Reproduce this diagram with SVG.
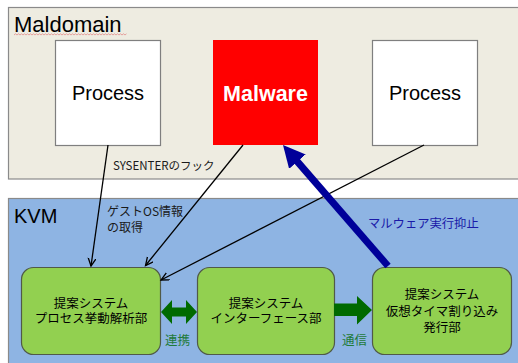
<svg xmlns="http://www.w3.org/2000/svg" width="518" height="363" viewBox="0 0 518 363">
<defs>
<style>
.dom{stroke:#8a8a8a;stroke-width:1.2}
.proc{fill:#ffffff;stroke:#7f7f7f;stroke-width:1.2}
.gbox{fill:#92D050;stroke:#505a48;stroke-width:1.2}
.lbl{font-family:"Liberation Sans",Arial,sans-serif;fill:#000}
.jp{font-family:"Noto Sans CJK JP","Noto Sans",sans-serif;font-size:12.5px;fill:#000;text-anchor:middle}
.jps{font-family:"Noto Sans CJK JP","Noto Sans",sans-serif;fill:#1a1a1a}
.thin{stroke:#000;stroke-width:1.3;fill:none}
.garrow{fill:#006a00}
</style>
<marker id="vhead" markerUnits="userSpaceOnUse" markerWidth="10" markerHeight="10" refX="8" refY="4" orient="auto">
<path d="M0,0 L8,4 L0,8" fill="none" stroke="#000" stroke-width="1.3"/>
</marker>
<marker id="bhead" markerUnits="userSpaceOnUse" markerWidth="24" markerHeight="24" refX="4" refY="11" orient="auto">
<path d="M0,0 L22,11 L0,22 z" fill="#000099"/>
</marker>
</defs>
<rect width="518" height="363" fill="#ffffff"/>
<g id="maldomain">
<rect class="dom" x="8.5" y="7.5" width="520" height="171.5" fill="#EEECE1"/>
<text class="lbl" x="14" y="32" font-size="22">Maldomain</text>
<path d="M14,35 l1.5,-1.2 l1.5,1.2 l1.5,-1.2 l1.5,1.2 l1.5,-1.2 l1.5,1.2 l1.5,-1.2 l1.5,1.2 l1.5,-1.2 l1.5,1.2 l1.5,-1.2 l1.5,1.2 l1.5,-1.2 l1.5,1.2 l1.5,-1.2 l1.5,1.2 l1.5,-1.2 l1.5,1.2 l1.5,-1.2 l1.5,1.2 l1.5,-1.2 l1.5,1.2 l1.5,-1.2 l1.5,1.2 l1.5,-1.2 l1.5,1.2 l1.5,-1.2 l1.5,1.2 l1.5,-1.2 l1.5,1.2 l1.5,-1.2 l1.5,1.2 l1.5,-1.2 l1.5,1.2 l1.5,-1.2 l1.5,1.2 l1.5,-1.2 l1.5,1.2 l1.5,-1.2 l1.5,1.2 l1.5,-1.2 l1.5,1.2 l1.5,-1.2 l1.5,1.2 l1.5,-1.2 l1.5,1.2 l1.5,-1.2 l1.5,1.2 l1.5,-1.2 l1.5,1.2 l1.5,-1.2 l1.5,1.2 l1.5,-1.2 l1.5,1.2 l1.5,-1.2 l1.5,1.2 l1.5,-1.2 l1.5,1.2 l1.5,-1.2 l1.5,1.2 l1.5,-1.2 l1.5,1.2 l1.5,-1.2 l1.5,1.2 l1.5,-1.2 l1.5,1.2 l1.5,-1.2 l1.5,1.2 l1.5,-1.2 l1.5,1.2 l1.5,-1.2 l1.5,1.2 l1.5,-1.2 l1.5,1.2 l1.5,-1.2" fill="none" stroke="#e08080" stroke-width="0.7"/>
</g>
<g id="kvm">
<rect class="dom" x="8.5" y="198.5" width="520" height="180" fill="#8EB4E3" stroke="#6a6a6a"/>
<text class="lbl" x="14" y="223" font-size="20">KVM</text>
</g>
<g id="process1">
<rect class="proc" x="55.5" y="40.5" width="105" height="105"/>
<text class="lbl" x="108" y="100" font-size="20" text-anchor="middle">Process</text>
</g>
<g id="malware">
<rect x="213" y="40" width="105" height="105" fill="#ff0000"/>
<text class="lbl" x="265.5" y="101" font-size="21.5" font-weight="bold" style="fill:#ffffff" text-anchor="middle">Malware</text>
</g>
<g id="process2">
<rect class="proc" x="372.5" y="40.5" width="105" height="105"/>
<text class="lbl" x="425" y="100" font-size="20" text-anchor="middle">Process</text>
</g>
<g id="analyzer">
<rect class="gbox" x="21.5" y="267.5" width="139" height="87" rx="12"/>
<text class="jp" x="91" y="307.5">提案システム</text>
<text class="jp" x="91" y="323">プロセス挙動解析部</text>
</g>
<g id="interface">
<rect class="gbox" x="197.5" y="267.5" width="137" height="87" rx="12"/>
<text class="jp" x="266" y="307.5">提案システム</text>
<text class="jp" x="266" y="323">インターフェース部</text>
</g>
<g id="timer">
<rect class="gbox" x="372.5" y="267.5" width="139" height="87" rx="12"/>
<text class="jp" x="442" y="298.5">提案システム</text>
<text class="jp" x="442" y="315.5">仮想タイマ割り込み</text>
<text class="jp" x="442" y="332">発行部</text>
</g>
<g id="connectors">
<line class="thin" x1="108" y1="145" x2="91" y2="266" marker-end="url(#vhead)"/>
<line class="thin" x1="243" y1="145" x2="145.5" y2="265.5" marker-end="url(#vhead)"/>
<line class="thin" x1="424" y1="145" x2="161" y2="280" marker-end="url(#vhead)"/>
<line x1="388" y1="266" x2="294.8" y2="158.6" stroke="#000099" stroke-width="7" marker-end="url(#bhead)"/>
<polygon class="garrow" points="161,312 172,300 172,307.5 186,307.5 186,300 197,312 186,324 186,316.5 172,316.5 172,324"/>
<polygon class="garrow" points="334,303.5 357,303.5 357,296 372,310 357,324.5 357,316 334,316"/>
<text class="jps" x="113" y="169.5" style="font-size:11.5px">SYSENTERのフック</text>
<text class="jps" x="107" y="215.5" style="font-size:12px">ゲストOS情報</text>
<text class="jps" x="107" y="231.5" style="font-size:12px">の取得</text>
<text class="jps" x="368" y="227.5" style="font-size:12.3px;fill:#1a1aa8">マルウェア実行抑止</text>
<text class="jps" x="165" y="344.5" style="font-size:12.5px;fill:#1f7a3a">連携</text>
<text class="jps" x="342" y="344.5" style="font-size:12.5px;fill:#1f7a3a">通信</text>
</g>
</svg>
